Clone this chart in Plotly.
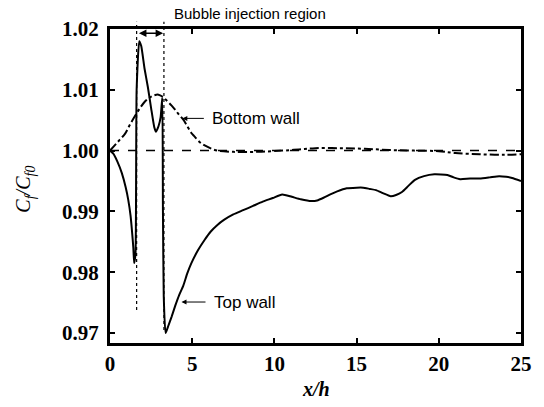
import plotly.graph_objects as go

# ---- data ----
top_x = [0, 0.2, 0.45, 0.72, 0.95, 1.11, 1.25, 1.35, 1.42, 1.47, 1.55, 1.62, 1.78, 1.9, 2.1, 2.3, 2.5,
         2.69, 2.8, 2.95, 3.08, 3.18, 3.22, 3.27, 3.38, 3.55, 3.75, 3.97, 4.2, 4.46, 4.7, 4.95, 5.35,
         5.75, 6.13, 6.5, 6.93, 7.5, 8.1, 8.7, 9.29, 9.9, 10.47, 11.06, 11.6, 12.25, 12.6, 13.03, 13.4,
         13.82, 14.4, 15.0, 15.4, 15.8, 16.18, 16.6, 17.07, 17.4, 17.76, 18.15, 18.55, 19.1, 19.73,
         20.52, 20.9, 21.3, 21.9, 22.49, 23.1, 23.67, 24.1, 24.46, 25.0]
top_y = [1.0, 0.9995, 0.9982, 0.9963, 0.9940, 0.9919, 0.9893, 0.9864, 0.9840, 0.9815, 0.9830, 1.0100,
         1.0180, 1.0172, 1.0135, 1.0105, 1.0070, 1.0039, 1.0031, 1.0040, 1.0055, 1.0087, 0.9900, 0.9760,
         0.9700, 0.9712, 0.9727, 0.9745, 0.9762, 0.9778, 0.9798, 0.9815, 0.9836, 0.9853, 0.9867, 0.9877,
         0.9886, 0.9895, 0.9902, 0.9909, 0.9916, 0.9922, 0.9928, 0.9924, 0.9920, 0.9917, 0.9918, 0.9923,
         0.9928, 0.9933, 0.9938, 0.9939, 0.9939, 0.9937, 0.9935, 0.9930, 0.9925, 0.9927, 0.9932, 0.9942,
         0.9952, 0.9958, 0.9961, 0.9960, 0.9956, 0.9953, 0.9954, 0.9954, 0.9956, 0.9958, 0.9957, 0.9955,
         0.9950]

bot_x = [0, 0.3, 0.6, 0.92, 1.2, 1.5, 1.8, 2.1, 2.4, 2.69, 2.95, 3.18, 3.5, 3.75, 3.97, 4.2, 4.46, 4.7,
         4.95, 5.15, 5.5, 5.94, 6.53, 7.5, 9, 10.5, 11.5, 12.5, 14, 15.5, 17, 18.5, 20, 21, 22.5, 24, 25]
bot_y = [1.0, 1.0009, 1.0018, 1.0028, 1.0042, 1.0056, 1.0069, 1.0080, 1.0087, 1.0091, 1.0092, 1.0089,
         1.0081, 1.0074, 1.0067, 1.0059, 1.0051, 1.0040, 1.0029, 1.0023, 1.0013, 1.0006, 1.0000, 0.9998,
         0.9998, 1.0000, 1.0002, 1.0004, 1.0004, 1.0003, 1.0001, 1.0000, 0.9999, 0.9996, 0.9994, 0.9993,
         0.9994]

ref_x = [0, 25]
ref_y = [1.0, 1.0]

inj_start, inj_end = 1.62, 3.28
x_ticks = [0, 5, 10, 15, 20, 25]
y_ticks = [0.97, 0.98, 0.99, 1.00, 1.01, 1.02]
y_tick_text = ["0.97", "0.98", "0.99", "1.00", "1.01", "1.02"]

X_RANGE = [0, 25]
Y_RANGE = [0.96836, 1.02]

def px(x):
    return (x - X_RANGE[0]) / (X_RANGE[1] - X_RANGE[0])

def py(y):
    return (y - Y_RANGE[0]) / (Y_RANGE[1] - Y_RANGE[0])

fig = go.Figure()
fig.add_trace(go.Scatter(x=ref_x, y=ref_y, mode="lines",
                         line=dict(color="black", width=1.5, dash="dash"), showlegend=False))
fig.add_trace(go.Scatter(x=bot_x, y=bot_y, mode="lines", line_shape="spline",
                         line=dict(color="black", width=2, dash="dashdot"), showlegend=False))
fig.add_trace(go.Scatter(x=top_x, y=top_y, mode="lines", line_shape="spline",
                         line=dict(color="black", width=2, smoothing=0.5), showlegend=False))

# dotted boundaries of the injection region (extend above the frame)
for xv, ybot in [(inj_start, 0.9738), (inj_end, 0.9705)]:
    fig.add_shape(type="line", xref="paper", yref="paper",
                  x0=px(xv), x1=px(xv), y0=py(ybot), y1=py(1.0212),
                  line=dict(color="black", width=1.2, dash="dot"))

serif = "Liberation Serif, Times New Roman, serif"
sans = "Liberation Sans, Arial, sans-serif"

annotations = [
    dict(x=inj_end - 0.05, y=1.0193, ax=inj_start + 0.05, ay=1.0193, xref="x", yref="y",
         axref="x", ayref="y", text="", showarrow=True, arrowhead=2, arrowside="end+start",
         arrowsize=1, arrowwidth=1.5, arrowcolor="black"),
    dict(x=px(8.5), y=py(1.0225), xref="paper", yref="paper", text="Bubble injection region",
         showarrow=False, yanchor="middle",
         font=dict(family=sans, size=15, color="black")),
    # bottom wall label
    dict(x=4.4, y=1.0053, ax=5.8, ay=1.0053, xref="x", yref="y", axref="x", ayref="y", text="",
         showarrow=True, arrowhead=2, arrowsize=1, arrowwidth=1, arrowcolor="black"),
    dict(x=6.1, y=1.0053, xref="x", yref="y", text="Bottom wall", showarrow=False, xanchor="left",
         font=dict(family=sans, size=17, color="black")),
    # top wall label
    dict(x=4.35, y=0.9751, ax=5.9, ay=0.9751, xref="x", yref="y", axref="x", ayref="y", text="",
         showarrow=True, arrowhead=2, arrowsize=1, arrowwidth=1, arrowcolor="black"),
    dict(x=6.2, y=0.9751, xref="x", yref="y", text="Top wall", showarrow=False, xanchor="left",
         font=dict(family=sans, size=17, color="black")),
    # axis titles
    dict(x=0.5, y=-0.145, xref="paper", yref="paper", text="<b><i>x/h</i></b>", showarrow=False,
         yanchor="middle", font=dict(family=serif, size=20, color="black")),
    dict(x=-0.208, y=0.49, xref="paper", yref="paper", text="<i>C<sub>f</sub>/C<sub>f0</sub></i>",
         showarrow=False, textangle=-90, xanchor="center", yanchor="middle",
         font=dict(family=serif, size=20, color="black")),
]

fig.update_layout(
    width=544, height=407,
    margin=dict(l=110, r=12, t=29, b=64),
    paper_bgcolor="white", plot_bgcolor="white",
    annotations=annotations,
    showlegend=False,
    font=dict(family=serif, color="black"),
)
tickfont = dict(family=serif, size=21, color="black", weight="bold")
fig.update_xaxes(range=X_RANGE, tickvals=x_ticks, ticks="inside", ticklen=5, tickwidth=2,
                 tickcolor="black", showline=True, linewidth=3, linecolor="black", mirror="allticks",
                 showgrid=False, zeroline=False, tickfont=tickfont)
fig.update_yaxes(range=Y_RANGE, tickvals=y_ticks, ticktext=y_tick_text, ticks="inside", ticklen=5,
                 tickwidth=2, tickcolor="black", showline=True, linewidth=3, linecolor="black",
                 mirror="allticks", showgrid=False, zeroline=False, ticklabelstandoff=4,
                 tickfont=tickfont)

fig.write_html("out.html")
